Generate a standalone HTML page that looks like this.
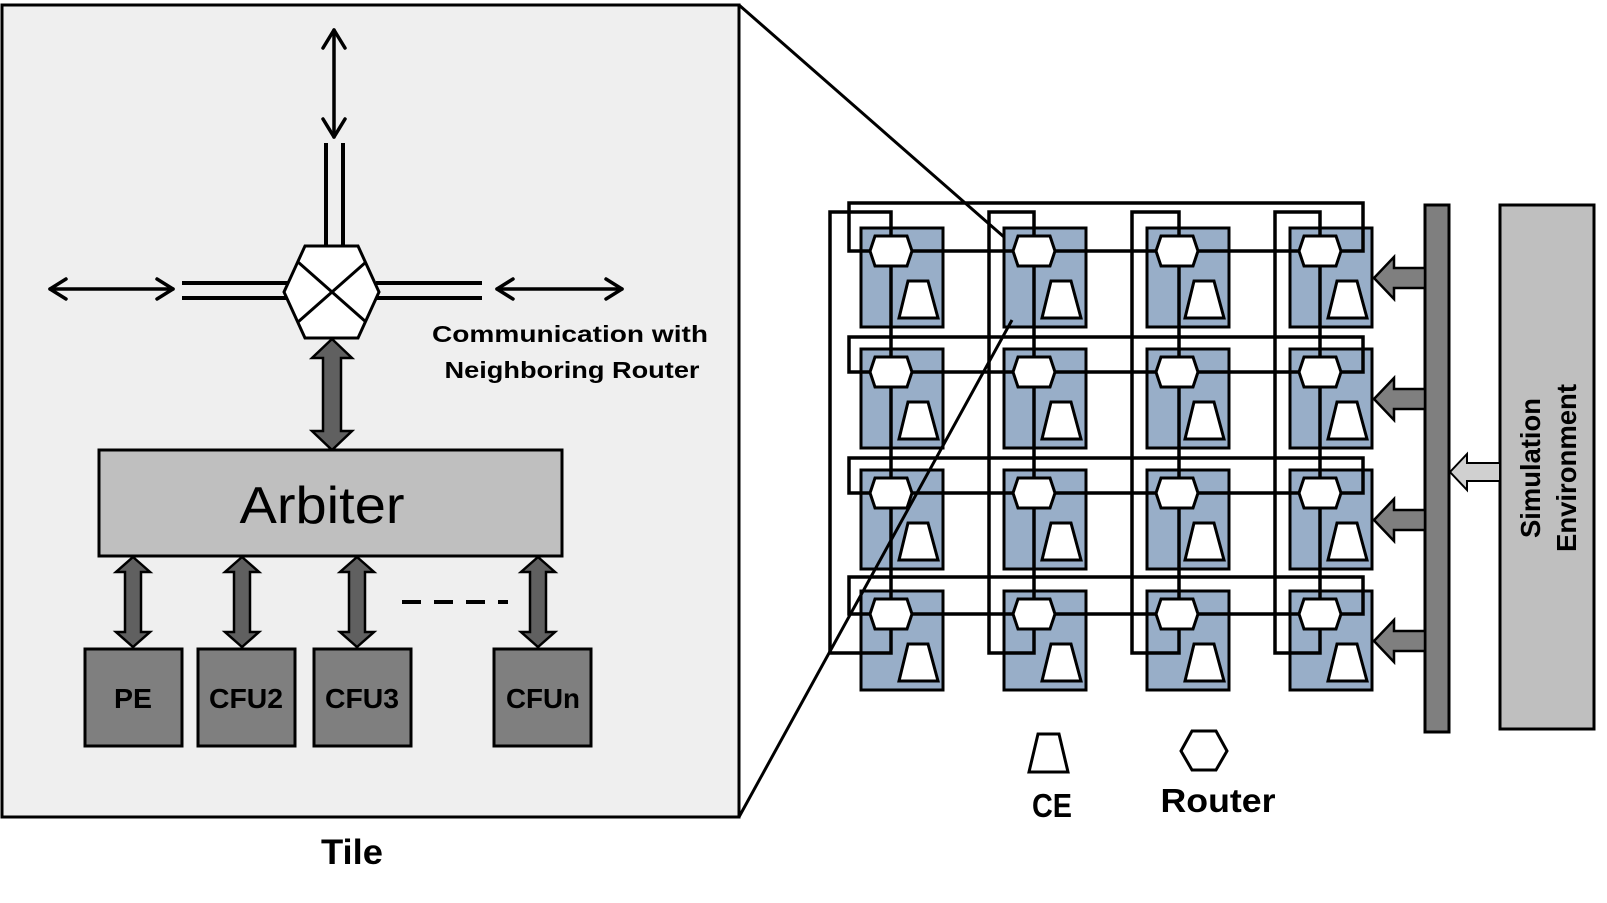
<!DOCTYPE html>
<html><head><meta charset="utf-8"><style>
html,body{margin:0;padding:0;background:#fff;}
svg{display:block;font-family:"Liberation Sans",sans-serif;}
</style></head><body>
<svg width="1607" height="903" viewBox="0 0 1607 903" xmlns="http://www.w3.org/2000/svg">
<!-- Tile panel -->
<rect x="2" y="5" width="737" height="812" fill="#efefef" stroke="#000" stroke-width="3"/>
<g stroke="#000" stroke-width="3.5" fill="none" stroke-linecap="round" stroke-linejoin="round">
<line x1="334" y1="30" x2="334" y2="137"/>
<polyline points="323,48 334,30 345,48"/>
<polyline points="323,119 334,137 345,119"/>
<line x1="50" y1="289" x2="173" y2="289"/>
<polyline points="66,279 50,289 66,299"/>
<polyline points="157,279 173,289 157,299"/>
<line x1="497" y1="289" x2="622" y2="289"/>
<polyline points="513,279 497,289 513,299"/>
<polyline points="606,279 622,289 606,299"/>
</g>
<g stroke="#000" stroke-width="4">
<line x1="326" y1="143" x2="326" y2="247"/>
<line x1="343" y1="143" x2="343" y2="247"/>
<line x1="182" y1="283" x2="288" y2="283"/>
<line x1="182" y1="298" x2="288" y2="298"/>
<line x1="376" y1="283" x2="482" y2="283"/>
<line x1="376" y1="298" x2="482" y2="298"/>
</g>
<polygon points="305,246 358,246 379,292 358,338 305,338 284,292" fill="#fff" stroke="#000" stroke-width="3"/>
<line x1="298" y1="262" x2="366" y2="322" stroke="#000" stroke-width="3"/>
<line x1="366" y1="262" x2="298" y2="322" stroke="#000" stroke-width="3"/>
<text x="570" y="342" font-size="23" font-weight="bold" text-anchor="middle" textLength="276" lengthAdjust="spacingAndGlyphs">Communication with</text>
<text x="572" y="378" font-size="23" font-weight="bold" text-anchor="middle" textLength="255" lengthAdjust="spacingAndGlyphs">Neighboring Router</text>
<path d="M332,339 L352,358 L341,358 L341,431 L352,431 L332,450 L312,431 L323,431 L323,358 L312,358 Z" fill="#606060" stroke="#000" stroke-width="2.5" stroke-linejoin="miter"/>
<rect x="99" y="450" width="463" height="106" fill="#bfbfbf" stroke="#000" stroke-width="3"/>
<text x="322" y="523" font-size="52" text-anchor="middle" textLength="165" lengthAdjust="spacingAndGlyphs">Arbiter</text>
<g fill="#606060" stroke="#000" stroke-width="2.5">
<path d="M133,557 L150,572 L141,572 L141,632 L150,632 L133,647 L116,632 L125,632 L125,572 L116,572 Z"/>
<path d="M242,557 L259,572 L250,572 L250,632 L259,632 L242,647 L225,632 L234,632 L234,572 L225,572 Z"/>
<path d="M357,557 L374,572 L365,572 L365,632 L374,632 L357,647 L340,632 L349,632 L349,572 L340,572 Z"/>
<path d="M538,557 L555,572 L546,572 L546,632 L555,632 L538,647 L521,632 L530,632 L530,572 L521,572 Z"/>
</g>
<line x1="402" y1="602" x2="508" y2="602" stroke="#000" stroke-width="4" stroke-dasharray="19,13"/>
<g fill="#7f7f7f" stroke="#000" stroke-width="3">
<rect x="85" y="649" width="97" height="97"/>
<rect x="198" y="649" width="97" height="97"/>
<rect x="314" y="649" width="97" height="97"/>
<rect x="494" y="649" width="97" height="97"/>
</g>
<g font-size="28" font-weight="bold" text-anchor="middle">
<text x="133" y="708" textLength="38" lengthAdjust="spacingAndGlyphs">PE</text>
<text x="246" y="708" textLength="74" lengthAdjust="spacingAndGlyphs">CFU2</text>
<text x="362" y="708" textLength="74" lengthAdjust="spacingAndGlyphs">CFU3</text>
<text x="543" y="708" textLength="74" lengthAdjust="spacingAndGlyphs">CFUn</text>
</g>
<text x="352" y="864" font-size="35" font-weight="bold" text-anchor="middle" textLength="62" lengthAdjust="spacingAndGlyphs">Tile</text>

<g fill="#98aec8" stroke="#000" stroke-width="3">
<rect x="861" y="228" width="82" height="99"/><rect x="1004" y="228" width="82" height="99"/><rect x="1147" y="228" width="82" height="99"/><rect x="1290" y="228" width="82" height="99"/>
<rect x="861" y="349" width="82" height="99"/><rect x="1004" y="349" width="82" height="99"/><rect x="1147" y="349" width="82" height="99"/><rect x="1290" y="349" width="82" height="99"/>
<rect x="861" y="470" width="82" height="99"/><rect x="1004" y="470" width="82" height="99"/><rect x="1147" y="470" width="82" height="99"/><rect x="1290" y="470" width="82" height="99"/>
<rect x="861" y="591" width="82" height="99"/><rect x="1004" y="591" width="82" height="99"/><rect x="1147" y="591" width="82" height="99"/><rect x="1290" y="591" width="82" height="99"/>
</g>
<g fill="none" stroke="#000" stroke-width="3.5" stroke-linejoin="miter">
<rect x="830" y="212" width="61" height="441"/>
<rect x="989" y="212" width="45" height="441"/>
<rect x="1132" y="212" width="47" height="441"/>
<rect x="1275" y="212" width="45" height="441"/>
<rect x="849" y="203" width="514" height="48"/>
<rect x="849" y="337" width="514" height="35"/>
<rect x="849" y="458" width="514" height="35"/>
<rect x="849" y="577" width="514" height="37"/>
</g>
<g fill="#fff" stroke="#000" stroke-width="3">
<polygon points="870,251 875,236 907,236 912,251 907,266 875,266"/>
<polygon points="1013,251 1018,236 1050,236 1055,251 1050,266 1018,266"/>
<polygon points="1156,251 1161,236 1193,236 1198,251 1193,266 1161,266"/>
<polygon points="1299,251 1304,236 1336,236 1341,251 1336,266 1304,266"/>
<polygon points="870,372 875,357 907,357 912,372 907,387 875,387"/>
<polygon points="1013,372 1018,357 1050,357 1055,372 1050,387 1018,387"/>
<polygon points="1156,372 1161,357 1193,357 1198,372 1193,387 1161,387"/>
<polygon points="1299,372 1304,357 1336,357 1341,372 1336,387 1304,387"/>
<polygon points="870,493 875,478 907,478 912,493 907,508 875,508"/>
<polygon points="1013,493 1018,478 1050,478 1055,493 1050,508 1018,508"/>
<polygon points="1156,493 1161,478 1193,478 1198,493 1193,508 1161,508"/>
<polygon points="1299,493 1304,478 1336,478 1341,493 1336,508 1304,508"/>
<polygon points="870,614 875,599 907,599 912,614 907,629 875,629"/>
<polygon points="1013,614 1018,599 1050,599 1055,614 1050,629 1018,629"/>
<polygon points="1156,614 1161,599 1193,599 1198,614 1193,629 1161,629"/>
<polygon points="1299,614 1304,599 1336,599 1341,614 1336,629 1304,629"/>
</g>
<g fill="#fff" stroke="#000" stroke-width="3">
<polygon points="908,281 928,281 938,318 899,318"/><polygon points="1051,281 1071,281 1081,318 1042,318"/><polygon points="1194,281 1214,281 1224,318 1185,318"/><polygon points="1337,281 1357,281 1367,318 1328,318"/>
<polygon points="908,402 928,402 938,439 899,439"/><polygon points="1051,402 1071,402 1081,439 1042,439"/><polygon points="1194,402 1214,402 1224,439 1185,439"/><polygon points="1337,402 1357,402 1367,439 1328,439"/>
<polygon points="908,523 928,523 938,560 899,560"/><polygon points="1051,523 1071,523 1081,560 1042,560"/><polygon points="1194,523 1214,523 1224,560 1185,560"/><polygon points="1337,523 1357,523 1367,560 1328,560"/>
<polygon points="908,644 928,644 938,681 899,681"/><polygon points="1051,644 1071,644 1081,681 1042,681"/><polygon points="1194,644 1214,644 1224,681 1185,681"/><polygon points="1337,644 1357,644 1367,681 1328,681"/>
</g>
<line x1="739" y1="5" x2="1004" y2="237" stroke="#000" stroke-width="3"/>
<line x1="739" y1="817" x2="1012" y2="320" stroke="#000" stroke-width="3"/>
<rect x="1425" y="205" width="24" height="527" fill="#7f7f7f" stroke="#000" stroke-width="3"/>
<g fill="#7f7f7f" stroke="#000" stroke-width="2.5">
<path d="M1374,278 L1394,257 L1394,268 L1425,268 L1425,288 L1394,288 L1394,299 Z"/>
<path d="M1374,399 L1394,378 L1394,389 L1425,389 L1425,409 L1394,409 L1394,420 Z"/>
<path d="M1374,520 L1394,499 L1394,510 L1425,510 L1425,530 L1394,530 L1394,541 Z"/>
<path d="M1374,641 L1394,620 L1394,631 L1425,631 L1425,651 L1394,651 L1394,662 Z"/>
</g>
<rect x="1500" y="205" width="94" height="524" fill="#bfbfbf" stroke="#000" stroke-width="3"/>
<path d="M1450,472 L1467,454 L1467,463 L1500,463 L1500,481 L1467,481 L1467,490 Z" fill="#d0d0d0" stroke="#000" stroke-width="2"/>
<text transform="translate(1540,468) rotate(-90)" font-size="28" font-weight="bold" text-anchor="middle" textLength="140" lengthAdjust="spacingAndGlyphs">Simulation</text>
<text transform="translate(1576,468) rotate(-90)" font-size="28" font-weight="bold" text-anchor="middle" textLength="168" lengthAdjust="spacingAndGlyphs">Environment</text>
<polygon points="1038,734 1059,734 1068,772 1029,772" fill="#fff" stroke="#000" stroke-width="3"/>
<text x="1052" y="817" font-size="33" font-weight="bold" text-anchor="middle" textLength="40" lengthAdjust="spacingAndGlyphs">CE</text>
<polygon points="1181,751 1192,731 1216,731 1227,751 1216,770 1192,770" fill="#fff" stroke="#000" stroke-width="3"/>
<text x="1218" y="812" font-size="33" font-weight="bold" text-anchor="middle" textLength="115" lengthAdjust="spacingAndGlyphs">Router</text>
</svg>
</body></html>
